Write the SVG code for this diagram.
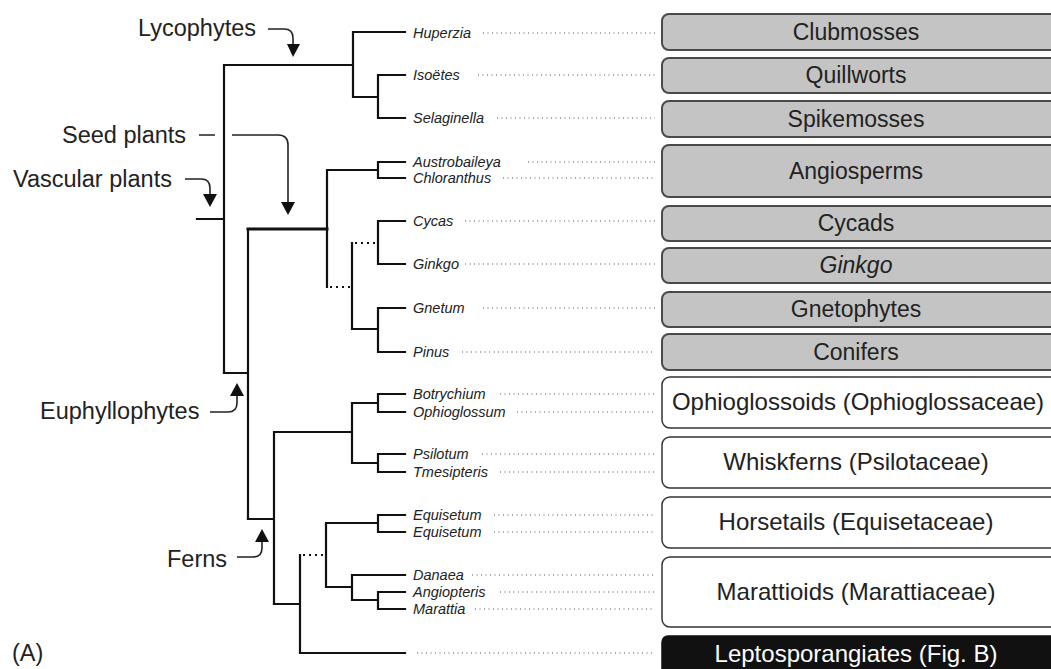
<svg xmlns="http://www.w3.org/2000/svg" width="1051" height="669" viewBox="0 0 1051 669">
<style>
.t{fill:none;stroke:#111;stroke-width:2.2;stroke-linecap:square}
.d{fill:none;stroke:#111;stroke-width:2.2;stroke-dasharray:2 4}
.ld{fill:none;stroke:#555;stroke-width:1.1;stroke-dasharray:1 3.5}
.tx{font-family:"Liberation Sans",Arial,sans-serif;font-style:italic;font-size:14.5px;fill:#222}
.lab{font-family:"Liberation Sans",Arial,sans-serif;font-size:23.5px;fill:#222}
.g{fill:#c4c4c4;stroke:#4a4a4a;stroke-width:2}
.w{fill:#fff;stroke:#333;stroke-width:1.5}
.k{fill:#111;stroke:#111;stroke-width:1.5}
.bl{font-family:"Liberation Sans",Arial,sans-serif;font-size:23px;fill:#222;text-anchor:middle}
.bw{font-family:"Liberation Sans",Arial,sans-serif;font-size:24px;fill:#222;text-anchor:middle}
.ar{fill:none;stroke:#222;stroke-width:1.6}
.ah{fill:#111}
</style>

<g id="connectors">
  <path class="t" d="M197,219 H224 M224,65 V373 M224,65 H353 M353,32 V97 M353,32 H405 M353,97 H378 M378,75 V118 M378,75 H405 M378,118 H405"/>
  <path class="t" d="M224,373 H248 M248,229 V519"/>
  <path class="t" style="stroke-width:3" d="M248,229 H327"/>
  <path class="t" d="M327,170 V287 M327,170 H378 M378,162 V178 M378,162 H405 M378,178 H405"/>
  <path class="d" d="M330,287 H352 M355,243 H378"/>
  <path class="t" d="M352,243 V329 M378,221 V264 M378,221 H405 M378,264 H405 M352,329 H378 M378,308 V352 M378,308 H405 M378,352 H405"/>
  <path class="t" d="M248,519 H274 M274,432 V604 M274,432 H352 M352,403 V463 M352,403 H378 M378,394 V412 M378,394 H405 M378,412 H405 M352,463 H378 M378,454 V472 M378,454 H405 M378,472 H405"/>
  <path class="t" d="M274,604 H300 M300,555 V653 M300,653 H405"/>
  <path class="d" d="M303,555 H326"/>
  <path class="t" d="M326,523 V587 M326,523 H378 M378,515 V532 M378,515 H405 M378,532 H405 M326,587 H352 M352,575 V600 M352,575 H405 M352,600 H378 M378,592 V609 M378,592 H405 M378,609 H405"/>
  <path class="ld" d="M483,33 H655 M478,75 H655 M497,118 H655 M528,162 H655 M503,178 H655 M465,221 H655 M465,264 H655 M483,308 H655 M462,352 H655 M500,394 H655 M517,412 H655 M482,454 H655 M500,472 H655 M494,515 H655 M494,532 H655 M472,575 H655 M500,592 H655 M475,609 H655 M417,653 H655"/>
</g>

<g id="callouts">
  <g id="lbl-lycophytes">
    <text class="lab" x="138" y="36">Lycophytes</text>
    <path class="ar" d="M268,29 H284 Q293,29 293,38 V45"/>
    <polygon class="ah" points="287,44 300,44 293,57"/>
  </g>
  <g id="lbl-seed">
    <text class="lab" x="62" y="143">Seed plants</text>
    <path class="ar" d="M199,135 H215 M232,135 H278 Q288,135 288,145 V203"/>
    <polygon class="ah" points="281,202 295,202 288,215"/>
  </g>
  <g id="lbl-vascular">
    <text class="lab" x="13" y="187">Vascular plants</text>
    <path class="ar" d="M185,179 H201 Q210,179 210,188 V195"/>
    <polygon class="ah" points="203,194 217,194 210,207"/>
  </g>
  <g id="lbl-euphyllophytes">
    <text class="lab" x="40" y="419">Euphyllophytes</text>
    <path class="ar" d="M210,412 H228 Q237,412 237,403 V395"/>
    <polygon class="ah" points="230,396 244,396 237,383"/>
  </g>
  <g id="lbl-ferns">
    <text class="lab" x="167" y="567">Ferns</text>
    <path class="ar" d="M237,557 H253 Q262,557 262,548 V541"/>
    <polygon class="ah" points="255,542 269,542 262,529"/>
  </g>
  <text id="panel-A" class="lab" x="12" y="661">(A)</text>
</g>

<g id="taxa">
  <text class="tx" x="413" y="38">Huperzia</text>
  <text class="tx" x="413" y="80">Isoëtes</text>
  <text class="tx" x="413" y="123">Selaginella</text>
  <text class="tx" x="413" y="167">Austrobaileya</text>
  <text class="tx" x="413" y="183">Chloranthus</text>
  <text class="tx" x="413" y="226">Cycas</text>
  <text class="tx" x="413" y="269">Ginkgo</text>
  <text class="tx" x="413" y="313">Gnetum</text>
  <text class="tx" x="413" y="357">Pinus</text>
  <text class="tx" x="413" y="399">Botrychium</text>
  <text class="tx" x="413" y="417">Ophioglossum</text>
  <text class="tx" x="413" y="459">Psilotum</text>
  <text class="tx" x="413" y="477">Tmesipteris</text>
  <text class="tx" x="413" y="520">Equisetum</text>
  <text class="tx" x="413" y="537">Equisetum</text>
  <text class="tx" x="413" y="580">Danaea</text>
  <text class="tx" x="413" y="597">Angiopteris</text>
  <text class="tx" x="413" y="614">Marattia</text>
</g>

<g id="box-clubmosses"><rect class="g" x="662" y="14" width="400" height="36" rx="7"/><text class="bl" x="856" y="40">Clubmosses</text></g>
<g id="box-quillworts"><rect class="g" x="662" y="58" width="400" height="35" rx="7"/><text class="bl" x="856" y="83">Quillworts</text></g>
<g id="box-spikemosses"><rect class="g" x="662" y="101" width="400" height="36" rx="7"/><text class="bl" x="856" y="127">Spikemosses</text></g>
<g id="box-angiosperms"><rect class="g" x="662" y="145" width="400" height="52" rx="7"/><text class="bl" x="856" y="179">Angiosperms</text></g>
<g id="box-cycads"><rect class="g" x="662" y="206" width="400" height="35" rx="7"/><text class="bl" x="856" y="231">Cycads</text></g>
<g id="box-ginkgo"><rect class="g" x="662" y="248" width="400" height="35" rx="7"/><text class="bl" x="856" y="273" font-style="italic">Ginkgo</text></g>
<g id="box-gnetophytes"><rect class="g" x="662" y="292" width="400" height="35" rx="7"/><text class="bl" x="856" y="317">Gnetophytes</text></g>
<g id="box-conifers"><rect class="g" x="662" y="334" width="400" height="36" rx="7"/><text class="bl" x="856" y="360">Conifers</text></g>
<g id="box-ophioglossoids"><rect class="w" x="662" y="377" width="400" height="51" rx="8"/><text class="bw" x="858" y="410">Ophioglossoids (Ophioglossaceae)</text></g>
<g id="box-whiskferns"><rect class="w" x="662" y="437" width="400" height="51" rx="8"/><text class="bw" x="856" y="470">Whiskferns (Psilotaceae)</text></g>
<g id="box-horsetails"><rect class="w" x="662" y="497" width="400" height="51" rx="8"/><text class="bw" x="856" y="530">Horsetails (Equisetaceae)</text></g>
<g id="box-marattioids"><rect class="w" x="662" y="557" width="400" height="70" rx="8"/><text class="bw" x="856" y="600">Marattioids (Marattiaceae)</text></g>
<g id="box-leptosporangiates"><rect class="k" x="662" y="636" width="400" height="45" rx="6"/><text class="bw" x="856" y="662" style="fill:#fff">Leptosporangiates (Fig. B)</text></g>
</svg>
